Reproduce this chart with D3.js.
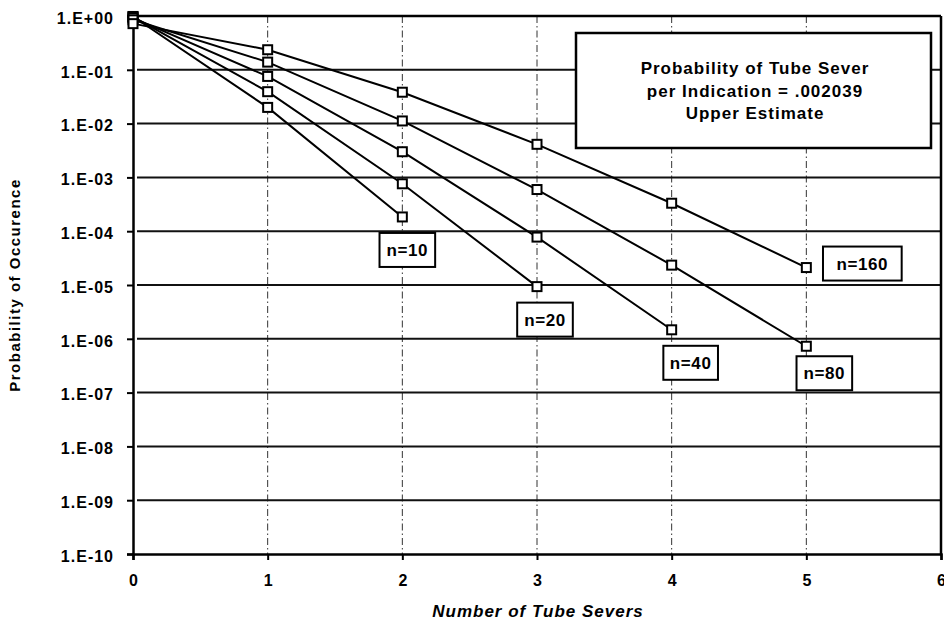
<!DOCTYPE html>
<html>
<head>
<meta charset="utf-8">
<script src="https://cdn.jsdelivr.net/npm/d3@7"></script>
<style>
  html, body { margin: 0; padding: 0; background: #fff; }
  svg { display: block; font-family: "Liberation Sans", Arial, sans-serif; }
</style>
</head>
<body>
<svg id="chart" width="944" height="620"></svg>
<script>
// Number of tube severs (x) and probability of occurrence for each sample size n
const severs = [0, 1, 2, 3, 4, 5];
const seriesNames = ["n=10", "n=20", "n=40", "n=80", "n=160"];
const probN10  = [0.980, 0.0200, 0.000184];
const probN20  = [0.960, 0.0392, 0.000761, 0.00000933];
const probN40  = [0.922, 0.0753, 0.00300, 0.0000777, 0.00000147];
const probN80  = [0.849, 0.139, 0.0112, 0.000595, 0.0000234, 0.000000727];
const probN160 = [0.721, 0.236, 0.0383, 0.00412, 0.000331, 0.0000211];
const yTickLabels = ["1.E+00", "1.E-01", "1.E-02", "1.E-03", "1.E-04", "1.E-05",
                     "1.E-06", "1.E-07", "1.E-08", "1.E-09", "1.E-10"];
const xTickLabels = ["0", "1", "2", "3", "4", "5", "6"];
const noteLines = ["Probability of Tube Sever", "per Indication = .002039", "Upper Estimate"];

const allSeries = [probN10, probN20, probN40, probN80, probN160];

const svg = d3.select("#chart");
const plotL = 133, plotR = 941, plotT = 16, plotB = 554;

const x = d3.scaleLinear().domain([0, 6]).range([plotL, plotR]);
const y = d3.scaleLog().domain([1e-10, 1]).range([plotB, plotT]);
const yTickValues = d3.range(0, 11).map(k => Math.pow(10, -k));

// vertical dash-dot grid
svg.append("g")
  .selectAll("line")
  .data([1, 2, 3, 4, 5])
  .join("line")
  .attr("x1", d => x(d)).attr("x2", d => x(d))
  .attr("y1", plotT).attr("y2", plotB)
  .attr("stroke", "#333").attr("stroke-width", 1)
  .attr("stroke-dasharray", "7,3,1.5,3");

// horizontal decade grid
svg.append("g")
  .selectAll("line")
  .data(yTickValues.slice(1, 10))
  .join("line")
  .attr("x1", plotL + 4).attr("x2", plotR)
  .attr("y1", d => y(d)).attr("y2", d => y(d))
  .attr("stroke", "#111").attr("stroke-width", 2);

// y axis with labels
const yAxis = d3.axisLeft(y)
  .tickValues(yTickValues)
  .tickFormat((d, i) => yTickLabels[i])
  .tickSize(6).tickPadding(13);
const gy = svg.append("g").attr("transform", `translate(${plotL},0)`).call(yAxis);
gy.select(".domain").attr("stroke", "#000").attr("stroke-width", 2.5);
gy.selectAll(".tick line").attr("stroke", "#000").attr("stroke-width", 2);
gy.selectAll(".tick text")
  .attr("font-family", "Liberation Sans, Arial, sans-serif")
  .attr("font-size", 16).attr("font-weight", "bold")
  .attr("letter-spacing", "1px")
  .attr("dy", "0.45em")
  .attr("fill", "#000");

// x axis with labels
const xAxis = d3.axisBottom(x)
  .tickValues(severs.concat([6]))
  .tickFormat((d, i) => xTickLabels[i])
  .tickSize(6).tickPadding(15);
const gx = svg.append("g").attr("transform", `translate(0,${plotB})`).call(xAxis);
gx.select(".domain").attr("stroke", "#000").attr("stroke-width", 2.5);
gx.selectAll(".tick line").attr("stroke", "#000").attr("stroke-width", 2);
gx.selectAll(".tick text")
  .attr("font-family", "Liberation Sans, Arial, sans-serif")
  .attr("font-size", 16).attr("font-weight", "bold")
  .attr("fill", "#000");

// top and right frame
svg.append("line").attr("x1", plotL).attr("x2", plotR).attr("y1", plotT).attr("y2", plotT)
  .attr("stroke", "#000").attr("stroke-width", 2.5);
svg.append("line").attr("x1", plotR).attr("x2", plotR).attr("y1", plotT).attr("y2", plotB)
  .attr("stroke", "#000").attr("stroke-width", 2.5);

// series lines
const line = d3.line().x((d, i) => x(severs[i])).y(d => y(d));
svg.append("g")
  .selectAll("path")
  .data(allSeries)
  .join("path")
  .attr("d", d => line(d))
  .attr("fill", "none").attr("stroke", "#000").attr("stroke-width", 2);

// square markers
const ms = 9;
svg.append("g")
  .selectAll("g")
  .data(allSeries)
  .join("g")
  .selectAll("rect")
  .data(d => d.map((v, i) => ({ x: severs[i], v })))
  .join("rect")
  .attr("x", d => x(d.x) - ms / 2).attr("y", d => y(d.v) - ms / 2)
  .attr("width", ms).attr("height", ms)
  .attr("fill", "#fff").attr("stroke", "#000").attr("stroke-width", 2);

// series name boxes next to the last point of each curve: [dx, dy, padding]
const labelPlacement = [[5, 33, 14], [8, 33, 14], [19, 33, 13], [18, 27, 14], [56, -4, 27]];
const lab = svg.append("g")
  .selectAll("g")
  .data(allSeries)
  .join("g")
  .attr("transform", (d, i) => {
    const last = d.length - 1;
    return `translate(${x(severs[last]) + labelPlacement[i][0]},${y(d[last]) + labelPlacement[i][1]})`;
  });
lab.append("text")
  .attr("text-anchor", "middle").attr("dy", "0.36em")
  .attr("font-size", 17).attr("font-weight", "bold")
  .attr("letter-spacing", "0.6px")
  .attr("fill", "#000")
  .text((d, i) => seriesNames[i]);
lab.each(function (d, i) {
  const g = d3.select(this);
  const bb = g.select("text").node().getBBox();
  const w = bb.width + labelPlacement[i][2], h = 34;
  g.insert("rect", "text")
    .attr("x", -w / 2).attr("y", -h / 2).attr("width", w).attr("height", h)
    .attr("fill", "#fff").attr("stroke", "#000").attr("stroke-width", 2);
});

// note box
const note = svg.append("g");
note.append("rect")
  .attr("x", 576).attr("y", 33).attr("width", 355).attr("height", 115)
  .attr("fill", "#fff").attr("stroke", "#000").attr("stroke-width", 2.5);
note.selectAll("text")
  .data(noteLines)
  .join("text")
  .attr("x", 755).attr("y", (d, i) => 74 + i * 22.5)
  .attr("text-anchor", "middle")
  .attr("font-size", 17).attr("font-weight", "bold")
  .attr("letter-spacing", "1px")
  .attr("fill", "#000")
  .text(d => d);

// axis titles
svg.append("text")
  .attr("x", 538).attr("y", 617)
  .attr("text-anchor", "middle")
  .attr("font-size", 17).attr("font-weight", "bold").attr("font-style", "italic")
  .attr("letter-spacing", "1px")
  .attr("fill", "#000")
  .text("Number of Tube Severs");
svg.append("text")
  .attr("transform", "translate(20,285) rotate(-90)")
  .attr("text-anchor", "middle")
  .attr("font-size", 15).attr("font-weight", "bold")
  .attr("letter-spacing", "1.5px")
  .attr("fill", "#000")
  .text("Probability of Occurence");
</script>
</body>
</html>
